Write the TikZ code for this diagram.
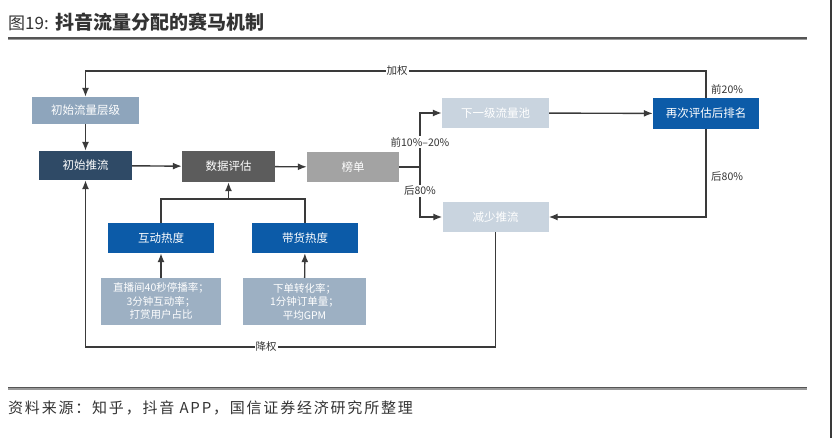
\documentclass[tikz,border=0pt]{standalone}
\usepackage{fontspec}
\setmainfont{Noto Sans CJK SC}
\newfontfamily\srcfont[LetterSpace=12]{Noto Sans CJK SC}
\usetikzlibrary{arrows.meta}
\definecolor{lineC}{HTML}{3A3A3A}
\definecolor{txtC}{HTML}{333333}
\definecolor{ruleC}{HTML}{555555}
\definecolor{llC}{HTML}{8EA5BC}
\definecolor{tsC}{HTML}{2F4A66}
\definecolor{sjC}{HTML}{5C5C5C}
\definecolor{bdC}{HTML}{A3A3A3}
\definecolor{ltC}{HTML}{C9D4DF}
\definecolor{blueC}{HTML}{0C5BA8}
\definecolor{grC}{HTML}{9DB0C3}
\tikzset{
  box/.style={draw=none, text=white, font=\fontsize{11.5}{13}\selectfont, inner sep=0pt, align=center},
  gbox/.style={box, fill=grC, font=\fontsize{10.5}{13.5}\selectfont},
  conn/.style={draw=lineC, line width=1.4pt},
  arr/.style={conn, -{Latex[length=9pt,width=7pt]}},
  lbl/.style={text=txtC, font=\fontsize{10.5}{12}\selectfont, inner sep=1pt},
}
\begin{document}
\begin{tikzpicture}[x=1pt,y=-1pt]
\useasboundingbox (0,0) rectangle (832,438);
% title and rules
\node[anchor=west, text=txtC, inner sep=0pt] (title) at (8,22) {\fontsize{17}{19}\selectfont 图19:\hspace{7pt}\fontsize{19}{21}\selectfont\bfseries 抖音流量分配的赛马机制};
\draw[color=ruleC, line width=1.3pt] (8,38) -- (807,38);
\draw[color=black!40, line width=1.3pt] (8,39.6) -- (807,39.6);
\draw[color=ruleC, line width=1.3pt] (8,387.5) -- (807,387.5);
\draw[color=black!40, line width=1.3pt] (8,389) -- (807,389);
\draw[color=lineC, line width=1.5pt] (831.2,0) -- (831.2,438);
\node[anchor=west, text=txtC, inner sep=0pt] (src) at (8,408) {\srcfont\fontsize{15}{17}\selectfont 资料来源：知乎，抖音 APP，国信证券经济研究所整理};
% nodes
\node[box, fill=llC, minimum width=107pt, minimum height=27pt] (ll) at (85.5,110.5) {初始流量层级};
\node[box, fill=tsC, minimum width=93pt, minimum height=29pt] (ts) at (85.5,165.5) {初始推流};
\node[box, fill=sjC, minimum width=93pt, minimum height=31pt] (sj) at (228.5,166.5) {数据评估};
\node[box, fill=bdC, minimum width=92pt, minimum height=30pt] (bd) at (353,167) {榜单};
\node[box, fill=ltC, minimum width=107pt, minimum height=30pt] (xy) at (495.5,113) {下一级流量池};
\node[box, fill=ltC, minimum width=106pt, minimum height=30pt] (js) at (495.5,217) {减少推流};
\node[box, fill=blueC, minimum width=106pt, minimum height=31pt] (zc) at (706,113.5) {再次评估后排名};
\node[box, fill=blueC, minimum width=106pt, minimum height=30pt] (hd) at (161,238) {互动热度};
\node[box, fill=blueC, minimum width=106pt, minimum height=30pt] (dh) at (305,238) {带货热度};
\node[gbox, minimum width=120pt, minimum height=47pt] (g1) at (161,301.5) {直播间40秒停播率；\\3分钟互动率；\\打赏用户占比};
\node[gbox, minimum width=123pt, minimum height=47pt] (g2) at (304.5,301.5) {下单转化率；\\1分钟订单量；\\平均GPM};
% coordinates
\coordinate (spine) at (420,167);
\coordinate (hj) at (228.5,199);
\coordinate (topR) at (706,71);
\coordinate (topL) at (85.5,71);
\coordinate (botR) at (495.5,347);
\coordinate (botL) at (85.5,347);
% connectors
\draw[arr] (ll) -- (ts);
\draw[arr] (ts) -- (sj);
\draw[arr] (sj) -- (bd);
\draw[conn] (bd.east) -- (spine);
\draw[arr] (spine) |- (xy.west);
\draw[arr] (spine) |- (js.west);
\draw[arr] (xy) -- (zc);
\draw[arr] (zc.south) |- (js.east);
\draw[arr] (zc.north) -- (topR) -- (topL) -- (ll.north);
\draw[arr] (js.south) -- (botR) -- (botL) -- (ts.south);
\draw[conn] (hd.north) |- (hj) -| (dh.north);
\draw[arr] (hj) -- (sj.south);
\draw[arr] (g1) -- (hd);
\draw[arr] (g2) -- (dh);
% labels
\node[lbl, fill=white] (l1) at (397,71) {加权};
\node[lbl, fill=white] (l2) at (266,347) {降权};
\node[lbl, fill=white] (l3) at (420,142) {前10\%–20\%};
\node[lbl, fill=white] (l4) at (420,191) {后80\%};
\node[lbl, anchor=west] (l5) at (710,89) {前20\%};
\node[lbl, anchor=west] (l6) at (710,177) {后80\%};
\end{tikzpicture}
\end{document}
